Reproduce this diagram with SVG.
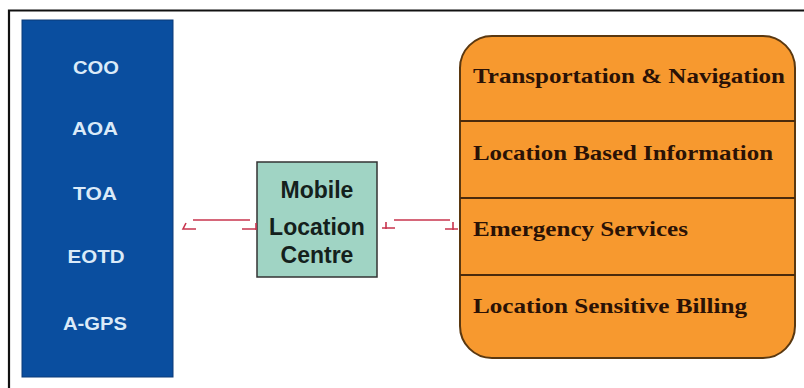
<svg xmlns="http://www.w3.org/2000/svg" width="804" height="388" viewBox="0 0 804 388">
<style>
.tech{font-family:"Liberation Sans",Arial,sans-serif;font-weight:bold;font-size:18px;fill:#dbeaf8;text-anchor:middle}
.mlc{font-family:"Liberation Sans",Arial,sans-serif;font-weight:bold;font-size:23px;fill:#14201c;text-anchor:middle}
.svc{font-family:"Liberation Serif","Times New Roman",serif;font-weight:bold;font-size:21px;fill:#2a1206}
.div{stroke:#4a2a0c;stroke-width:2}
.conn{stroke:#c8344e;stroke-width:1.6;fill:none}
</style>
<rect x="0" y="0" width="804" height="388" fill="#ffffff"/>
<path d="M9 388 V10.5 H804" fill="none" stroke="#111" stroke-width="2.2"/>
<g id="techniques">
<rect x="22" y="20" width="151" height="357" fill="#0a4e9f" stroke="#0a3a78" stroke-width="1"/>
<text class="tech" x="96" y="74" textLength="46" lengthAdjust="spacingAndGlyphs">COO</text>
<text class="tech" x="95" y="135" textLength="46" lengthAdjust="spacingAndGlyphs">AOA</text>
<text class="tech" x="95" y="200" textLength="44" lengthAdjust="spacingAndGlyphs">TOA</text>
<text class="tech" x="96" y="263" textLength="57" lengthAdjust="spacingAndGlyphs">EOTD</text>
<text class="tech" x="95" y="330" textLength="64" lengthAdjust="spacingAndGlyphs">A-GPS</text>
</g>
<g id="mlc">
<rect x="257" y="162" width="120" height="115" fill="#a0d4c4" stroke="#333" stroke-width="1.5"/>
<text class="mlc" x="317" y="198">Mobile</text>
<text class="mlc" x="317" y="235">Location</text>
<text class="mlc" x="317" y="263">Centre</text>
</g>
<g id="services">
<rect x="460" y="36" width="335" height="322" rx="32" ry="32" fill="#f7992f" stroke="#5a3810" stroke-width="2"/>
<line class="div" x1="460" y1="121" x2="795" y2="121"/>
<line class="div" x1="460" y1="198" x2="795" y2="198"/>
<line class="div" x1="460" y1="275" x2="795" y2="275"/>
<text class="svc" x="473" y="83" textLength="312" lengthAdjust="spacingAndGlyphs">Transportation &amp; Navigation</text>
<text class="svc" x="473" y="160" textLength="300" lengthAdjust="spacingAndGlyphs">Location Based Information</text>
<text class="svc" x="473" y="236" textLength="215" lengthAdjust="spacingAndGlyphs">Emergency Services</text>
<text class="svc" x="473" y="313" textLength="274" lengthAdjust="spacingAndGlyphs">Location Sensitive Billing</text>
</g>
<g id="connectors">
<line class="conn" x1="193" y1="220" x2="250" y2="220"/>
<path class="conn" d="M186 223 L183 229 H196"/>
<path class="conn" d="M242 229 H256 M256 223 V230"/>
<line class="conn" x1="394" y1="220" x2="450" y2="220"/>
<path class="conn" d="M382 228 H395 M386 222 V229"/>
<path class="conn" d="M445 229 H458 M453 222 V230"/>
</g>
</svg>
